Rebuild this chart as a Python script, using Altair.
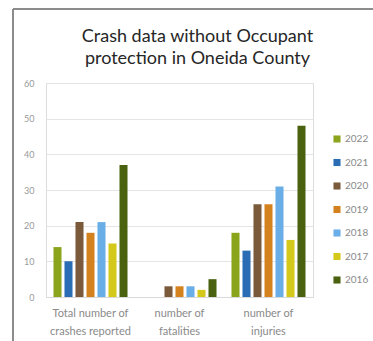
import altair as alt
import pandas as pd

categories = ["Total number of|crashes reported", "number of|fatalities", "number of|injuries"]
years = ["2022", "2021", "2020", "2019", "2018", "2017", "2016"]
colors = ["#8aa51c", "#2a6db5", "#7a5a3a", "#d4821e", "#6aaee8", "#d4c81a", "#4a6210"]
crashes = [14, 10, 21, 18, 21, 15, 37]
fatalities = [0, 0, 3, 3, 3, 2, 5]
injuries = [18, 13, 26, 26, 31, 16, 48]

rows = []
for cat, vals in zip(categories, [crashes, fatalities, injuries]):
    for y, v in zip(years, vals):
        rows.append({"category": cat, "year": y, "value": v})
df = pd.DataFrame(rows)

bars = alt.Chart(df).mark_bar().encode(
    x=alt.X("category:N", sort=categories,
            scale=alt.Scale(paddingInner=0, paddingOuter=0),
            axis=alt.Axis(title=None, labelAngle=0, labelExpr="split(datum.label, '|')",
                          labelColor="#8a8a8a", labelFontSize=11, labelFont="Lato",
                          labelPadding=10, ticks=False, domainColor="#d9d9d9",
                          labelLineHeight=18)),
    xOffset=alt.XOffset("year:N", sort=years,
                        scale=alt.Scale(paddingInner=0.27, paddingOuter=0.68)),
    y=alt.Y("value:Q", scale=alt.Scale(domain=[0, 60]),
            axis=alt.Axis(title=None, values=[0, 10, 20, 30, 40, 50, 60],
                          labelColor="#9a9a9a", labelFontSize=9, labelFont="Lato",
                          labelPadding=12, ticks=False, domain=False,
                          gridColor="#e4e4e4")),
    color=alt.Color("year:N", sort=years,
                    scale=alt.Scale(domain=years, range=colors),
                    legend=alt.Legend(title=None, orient="none", legendX=286, legendY=51,
                                      symbolType="square", symbolSize=50,
                                      symbolStrokeWidth=0, labelColor="#8a8a8a",
                                      labelFontSize=10, labelFont="Lato",
                                      rowPadding=13.5, labelOffset=3)),
)

frame_top = alt.Chart(df).mark_rule(color="#8c8c8c", strokeWidth=1.5).encode(
    x=alt.value(-33), x2=alt.value(330), y=alt.value(-74)
)
frame_left = alt.Chart(df).mark_rule(color="#8c8c8c", strokeWidth=1.5).encode(
    x=alt.value(-33), y=alt.value(-74), y2=alt.value(260)
)

chart = alt.layer(bars, frame_top, frame_left).properties(
    width=267, height=214,
    title=alt.TitleParams(
        text=["Crash data without Occupant", "protection in Oneida County"],
        font="Lato", fontSize=18, fontWeight="normal", color="#262626",
        anchor="middle", dx=18, offset=-60, lineHeight=22,
    ),
    autosize=alt.AutoSizeParams(type="none"),
    padding={"left": 46, "top": 83, "right": 60, "bottom": 44},
).configure_view(stroke=None).configure(background="white")

chart.save("out.html", embed_options={"renderer": "svg", "actions": False})
